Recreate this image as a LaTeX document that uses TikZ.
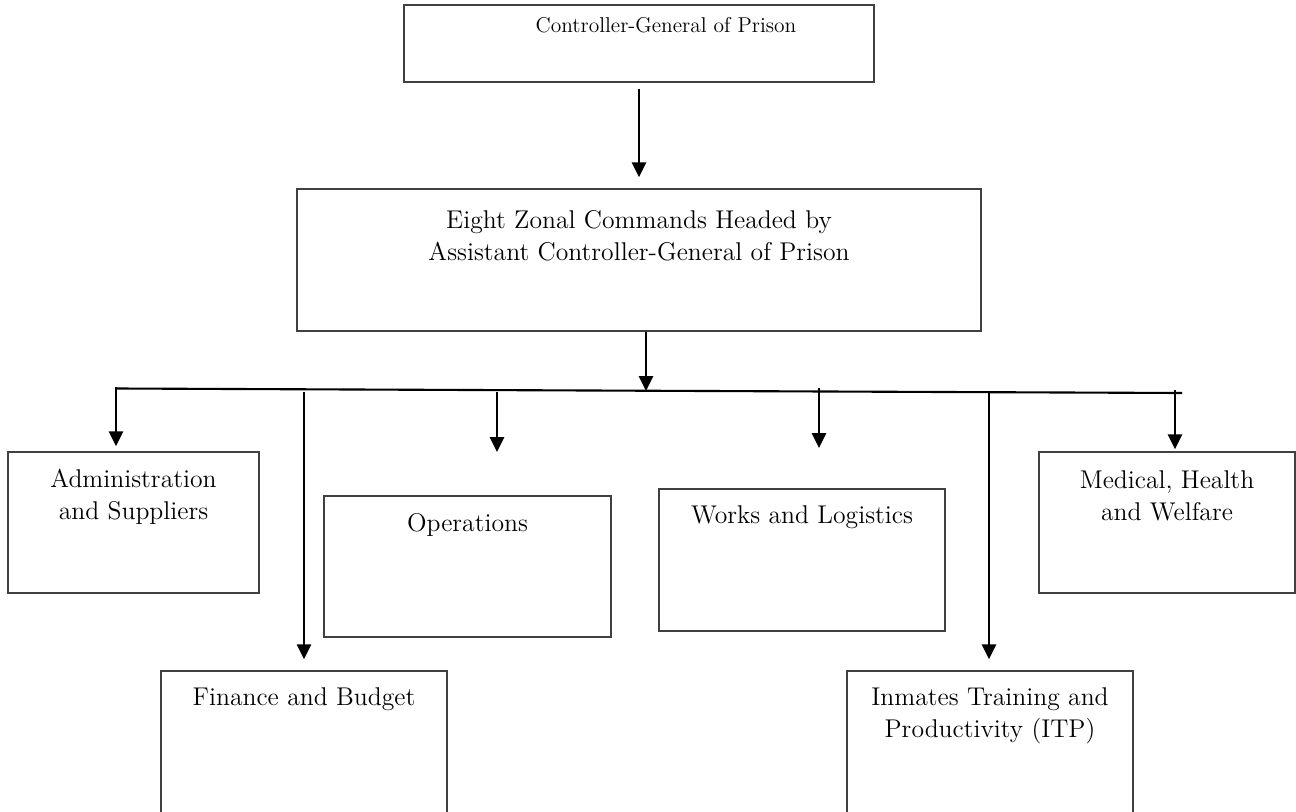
\documentclass[tikz,border=0pt]{standalone}
\usetikzlibrary{positioning,arrows.meta}
\tikzset{
	>={Triangle[length=8.5pt,width=8pt]},
	x=0.02cm, y=-0.02cm,
	office/.style={draw=black!75, line width=0.8pt, minimum height=2.82cm, inner sep=0pt},
	caption/.style={inner sep=0pt, align=center, font=\fontsize{14.6}{18.2}\selectfont},
	link/.style={->, line width=1.4pt},
}

\begin{document}
\begin{tikzpicture}
	\useasboundingbox (0,0) rectangle (1296,812);
	\clip (0,0) rectangle (1296,812);

	% boxes
	\node[office, minimum width=9.4cm, minimum height=1.54cm] (cgp) at (639,43.5) {};
	\node[office, minimum width=13.68cm, minimum height=2.84cm] (zonal) at (639,260) {};
	\node[office, minimum width=5.02cm] (admin) at (133.5,522.5) {};
	\node[office, minimum width=5.74cm] (ops) at (467.5,566.5) {};
	\node[office, minimum width=5.72cm, minimum height=2.84cm] (works) at (802,560) {};
	\node[office, minimum width=5.12cm] (med) at (1167,522.5) {};
	\node[office, minimum width=5.72cm, minimum height=3.18cm] (fin) at (304,750.5) {};
	\node[office, minimum width=5.72cm, minimum height=3.18cm] (itp) at (990,750.5) {};

	% texts
	\node[caption, font=\fontsize{12.2}{15}\selectfont, below=0.26cm of cgp.north, xshift=0.54cm] (cgp-t) {Controller-General of Prison};
	\node[caption, below=0.44cm of zonal.north] (zonal-t) {Eight Zonal Commands Headed by\\Assistant Controller-General of Prison};
	\node[caption, below=0.35cm of admin.north] (admin-t) {Administration\\and Suppliers};
	\node[caption, below=0.35cm of ops.north] (ops-t) {Operations};
	\node[caption, below=0.35cm of works.north] (works-t) {Works and Logistics};
	\node[caption, below=0.38cm of med.north] (med-t) {Medical, Health\\and Welfare};
	\node[caption, below=0.35cm of fin.north] (fin-t) {Finance and Budget};
	\node[caption, below=0.35cm of itp.north] (itp-t) {Inmates Training and\\Productivity (ITP)};

	% bus and drops
	\coordinate (bus-w) at (117,388.5);
	\coordinate (bus-e) at (1182,393);
	\coordinate (hub) at (646,391);
	\coordinate (d-admin) at (116,387);
	\coordinate (d-fin) at (304,392);
	\coordinate (d-ops) at (497,392);
	\coordinate (t-ops) at (497,452);
	\coordinate (d-works) at (819,388);
	\coordinate (t-works) at (819,448);
	\coordinate (d-itp) at (989,393);
	\coordinate (d-med) at (1175,390);

	\draw[link, shorten <=0.12cm, shorten >=0.22cm] (cgp) -- (zonal);
	\draw[link] (zonal.south -| hub) -- (hub);
	\draw[line width=1.2pt] (bus-w) -- (bus-e);
	\draw[link, shorten >=0.1cm] (d-admin) -- (d-admin |- admin.north);
	\draw[link, shorten >=0.22cm] (d-fin) -- (d-fin |- fin.north);
	\draw[link] (d-ops) -- (t-ops);
	\draw[link] (d-works) -- (t-works);
	\draw[link, shorten >=0.22cm] (d-itp) -- (d-itp |- itp.north);
	\draw[link, shorten >=0.04cm] (d-med) -- (d-med |- med.north);
\end{tikzpicture}
\end{document}
